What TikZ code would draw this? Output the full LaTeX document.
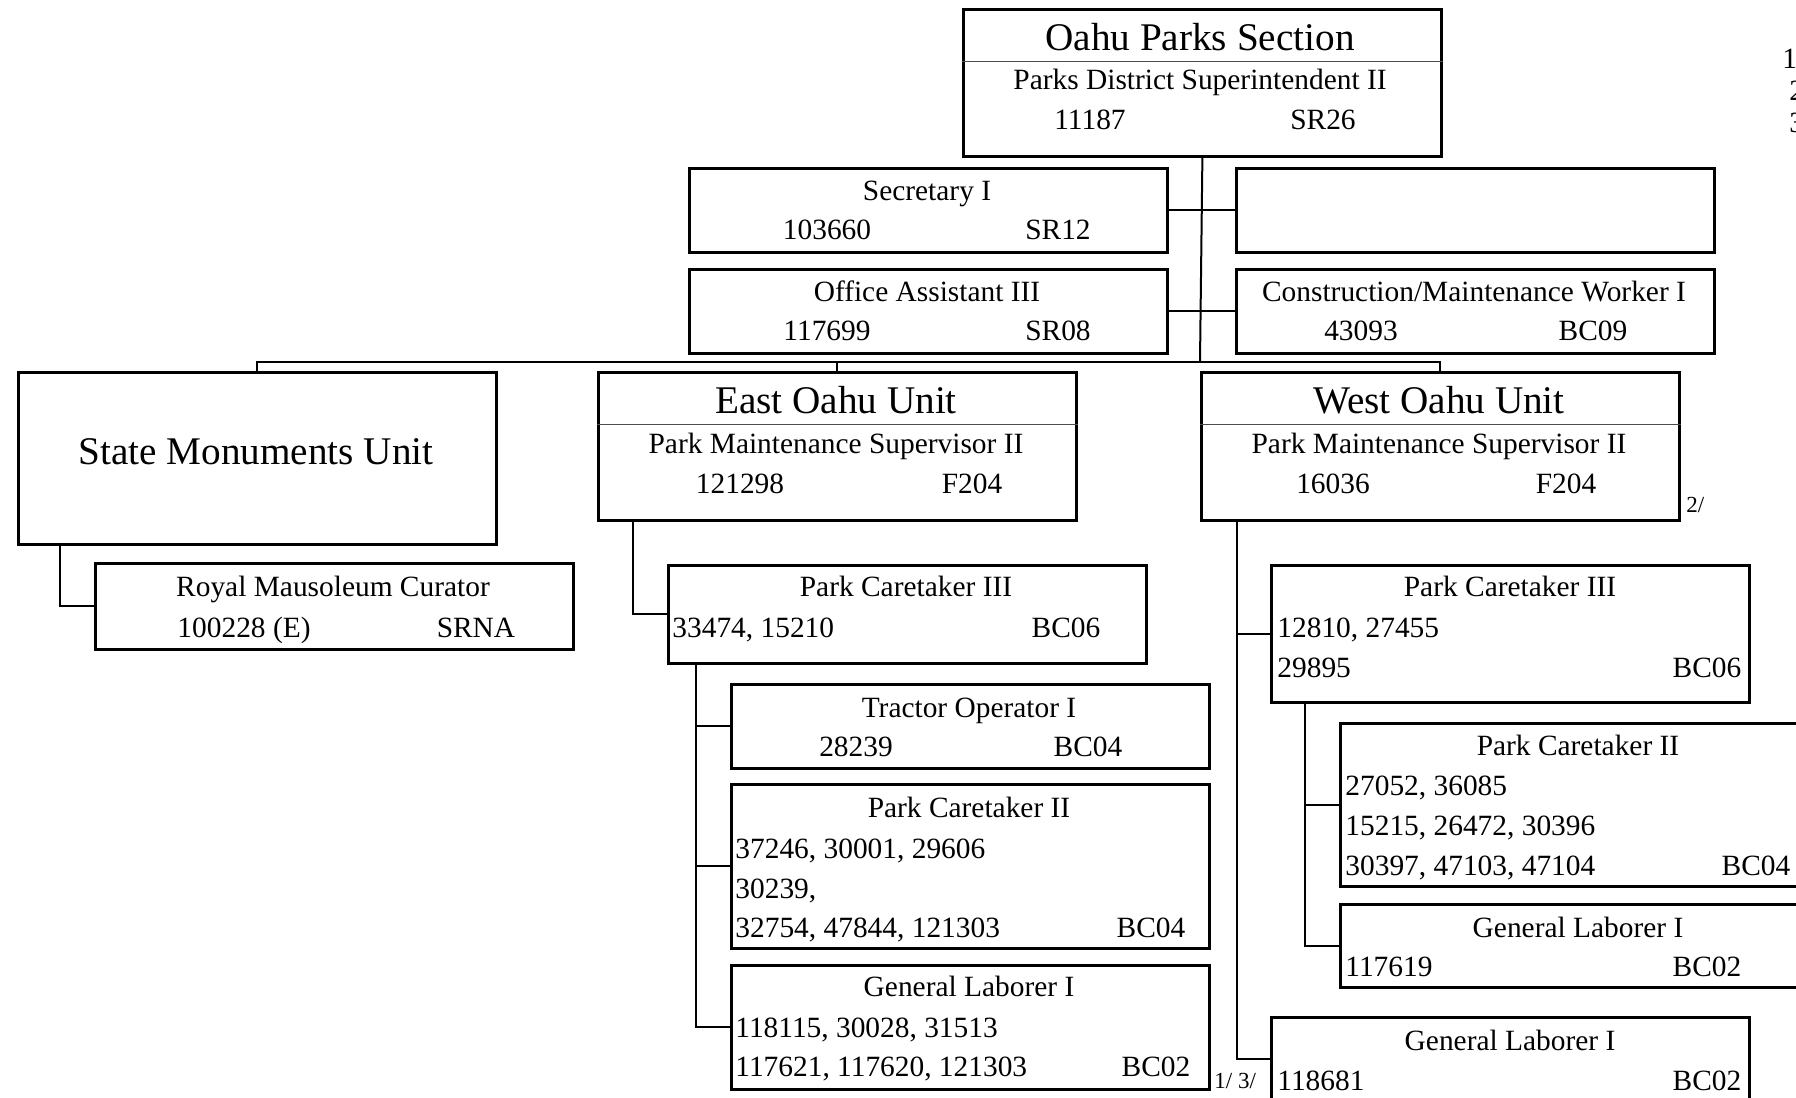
\documentclass[tikz,border=0pt]{standalone}
\usepackage{fontspec}
\setmainfont{Liberation Serif}
\usetikzlibrary{positioning}

\tikzset{
    pbox/.style={draw, line width=1.4pt, fill=white, inner sep=0pt, anchor=north west,
        minimum width=239pt, minimum height=42pt},
    ttl/.style={anchor=base, inner sep=0pt, font=\fontsize{19.6}{24}\selectfont},
    txt/.style={anchor=base, inner sep=0pt, font=\fontsize{14.7}{20}\selectfont},
    txtl/.style={txt, anchor=base west},
    note/.style={anchor=base west, inner sep=0pt, font=\fontsize{11.5}{14}\selectfont},
    link/.style={line width=1pt},
    divider/.style={line width=0.4pt, black!70}
}

\begin{document}
\begin{tikzpicture}[x=0.5pt, y=-0.5pt]
    \useasboundingbox (0,0) rectangle (1796,1098);
    \clip (0,0) rectangle (1796,1098);

    % section head and staff
    \node[pbox, minimum height=73.5pt] (ops) at (962,8) {};
    \draw[divider] ([yshift=-26.5pt]ops.north west) -- ([yshift=-26.5pt]ops.north east);
    \node[ttl] (ops-t) at (1200,50) {Oahu Parks Section};
    \node[txt] (ops-p) at (1200,89) {Parks District Superintendent II};
    \node[txt] (ops-n) at (1090,129) {11187};
    \node[txt] (ops-g) at (1323,129) {SR26};

    \node[pbox] (sec) at (688,167) {};
    \node[txt] (sec-t) at (927,200) {Secretary I};
    \node[txt] (sec-n) at (827,239) {103660};
    \node[txt] (sec-g) at (1058,239) {SR12};

    \node[pbox] (blank) at (1235,167) {};

    \node[pbox] (oa3) at (688,268) {};
    \node[txt] (oa3-t) at (927,301) {Office Assistant III};
    \node[txt] (oa3-n) at (827,340) {117699};
    \node[txt] (oa3-g) at (1058,340) {SR08};

    \node[pbox] (cmw) at (1235,268) {};
    \node[txt] (cmw-t) at (1474,301) {Construction/Maintenance Worker I};
    \node[txt] (cmw-n) at (1361,340) {43093};
    \node[txt] (cmw-g) at (1593,340) {BC09};

    % units
    \node[pbox, minimum height=86pt] (sm) at (17,371) {};
    \node[ttl] (sm-t) at (256,464) {State Monuments Unit};

    \node[pbox, minimum height=74pt] (eou) at (597,371) {};
    \draw[divider] ([yshift=-26.5pt]eou.north west) -- ([yshift=-26.5pt]eou.north east);
    \node[ttl] (eou-t) at (836,413) {East Oahu Unit};
    \node[txt] (eou-p) at (836,453) {Park Maintenance Supervisor II};
    \node[txt] (eou-n) at (740,493) {121298};
    \node[txt] (eou-g) at (972,493) {F204};

    \node[pbox, minimum height=74pt] (wou) at (1200,371) {};
    \draw[divider] ([yshift=-26.5pt]wou.north west) -- ([yshift=-26.5pt]wou.north east);
    \node[ttl] (wou-t) at (1439,413) {West Oahu Unit};
    \node[txt] (wou-p) at (1439,453) {Park Maintenance Supervisor II};
    \node[txt] (wou-n) at (1333,493) {16036};
    \node[txt] (wou-g) at (1566,493) {F204};
    \node[note] (wou-f) at (1686,512) {2/};

    % state monuments
    \node[pbox, minimum height=43pt] (rmc) at (94,562) {};
    \node[txt] (rmc-t) at (333,596) {Royal Mausoleum Curator};
    \node[txt] (rmc-n) at (244,637) {100228 (E)};
    \node[txt] (rmc-g) at (476,637) {SRNA};

    % east oahu
    \node[pbox, minimum height=49pt] (pc3e) at (667,564) {};
    \node[txt] (pc3e-t) at (906,596) {Park Caretaker III};
    \node[txtl] (pc3e-n) at (672,637) {33474, 15210};
    \node[txt] (pc3e-g) at (1066,637) {BC06};

    \node[pbox] (tro) at (730,683) {};
    \node[txt] (tro-t) at (969,717) {Tractor Operator I};
    \node[txt] (tro-n) at (856,756) {28239};
    \node[txt] (tro-g) at (1088,756) {BC04};

    \node[pbox, minimum height=82pt] (pc2e) at (730,783) {};
    \node[txt] (pc2e-t) at (969,817) {Park Caretaker II};
    \node[txtl] (pc2e-a) at (735,858) {37246, 30001, 29606};
    \node[txtl] (pc2e-b) at (735,898) {30239,};
    \node[txtl] (pc2e-c) at (735,937) {32754, 47844, 121303};
    \node[txt] (pc2e-g) at (1151,937) {BC04};

    \node[pbox, minimum height=62pt] (gle) at (730,964) {};
    \node[txt] (gle-t) at (969,996) {General Laborer I};
    \node[txtl] (gle-a) at (735,1037) {118115, 30028, 31513};
    \node[txtl] (gle-b) at (735,1076) {117621, 117620, 121303};
    \node[txt] (gle-g) at (1156,1076) {BC02};
    \node[note] (gle-f) at (1214,1088) {1/ 3/};

    % west oahu
    \node[pbox, minimum height=68.5pt] (pc3w) at (1270,564) {};
    \node[txt] (pc3w-t) at (1510,596) {Park Caretaker III};
    \node[txtl] (pc3w-a) at (1277,637) {12810, 27455};
    \node[txtl] (pc3w-b) at (1277,677) {29895};
    \node[txt] (pc3w-g) at (1707,677) {BC06};

    \node[pbox, minimum height=81.5pt] (pc2w) at (1339,722) {};
    \node[txt] (pc2w-t) at (1578,755) {Park Caretaker II};
    \node[txtl] (pc2w-a) at (1345,795) {27052, 36085};
    \node[txtl] (pc2w-b) at (1345,835) {15215, 26472, 30396};
    \node[txtl] (pc2w-c) at (1345,875) {30397, 47103, 47104};
    \node[txt] (pc2w-g) at (1756,875) {BC04};

    \node[pbox, minimum height=41.5pt] (glw2) at (1339,903) {};
    \node[txt] (glw2-t) at (1578,937) {General Laborer I};
    \node[txtl] (glw2-n) at (1345,976) {117619};
    \node[txt] (glw2-g) at (1707,976) {BC02};

    \node[pbox] (glw) at (1270,1016) {};
    \node[txt] (glw-t) at (1510,1050) {General Laborer I};
    \node[txtl] (glw-n) at (1277,1090) {118681};
    \node[txt] (glw-g) at (1707,1090) {BC02};

    % notes, cut at the edge
    \node[txtl] (fn1) at (1782,68) {1};
    \node[txtl] (fn2) at (1789,100) {2};
    \node[txtl] (fn3) at (1789,132) {3};

    % connectors
    \coordinate (bus) at (1200,362);
    \draw[link] (ops.south) -- (bus);
    \draw[link] (sec.east) -- (blank.west);
    \draw[link] (oa3.east) -- (cmw.west);
    \draw[link] (sm.north) -- (sm.north |- bus) -- (wou.north |- bus) -- (wou.north);
    \draw[link] (eou.north) -- (eou.north |- bus);

    \draw[link] ([xshift=21.5pt]sm.south west) |- (rmc.west);

    \draw[link] ([xshift=18pt]eou.south west) |- (pc3e.west);
    \draw[link] ([xshift=14.5pt]pc3e.south west) coordinate (e2) |- (gle.west);
    \draw[link] (e2 |- tro.west) -- (tro.west);
    \draw[link] (e2 |- pc2e.west) -- (pc2e.west);

    \draw[link] ([xshift=18.5pt]wou.south west) coordinate (w1) |- (glw.west);
    \draw[link] (w1 |- pc3w.west) -- (pc3w.west);
    \draw[link] ([xshift=17.5pt]pc3w.south west) coordinate (w2) |- (glw2.west);
    \draw[link] (w2 |- pc2w.west) -- (pc2w.west);
\end{tikzpicture}
\end{document}
